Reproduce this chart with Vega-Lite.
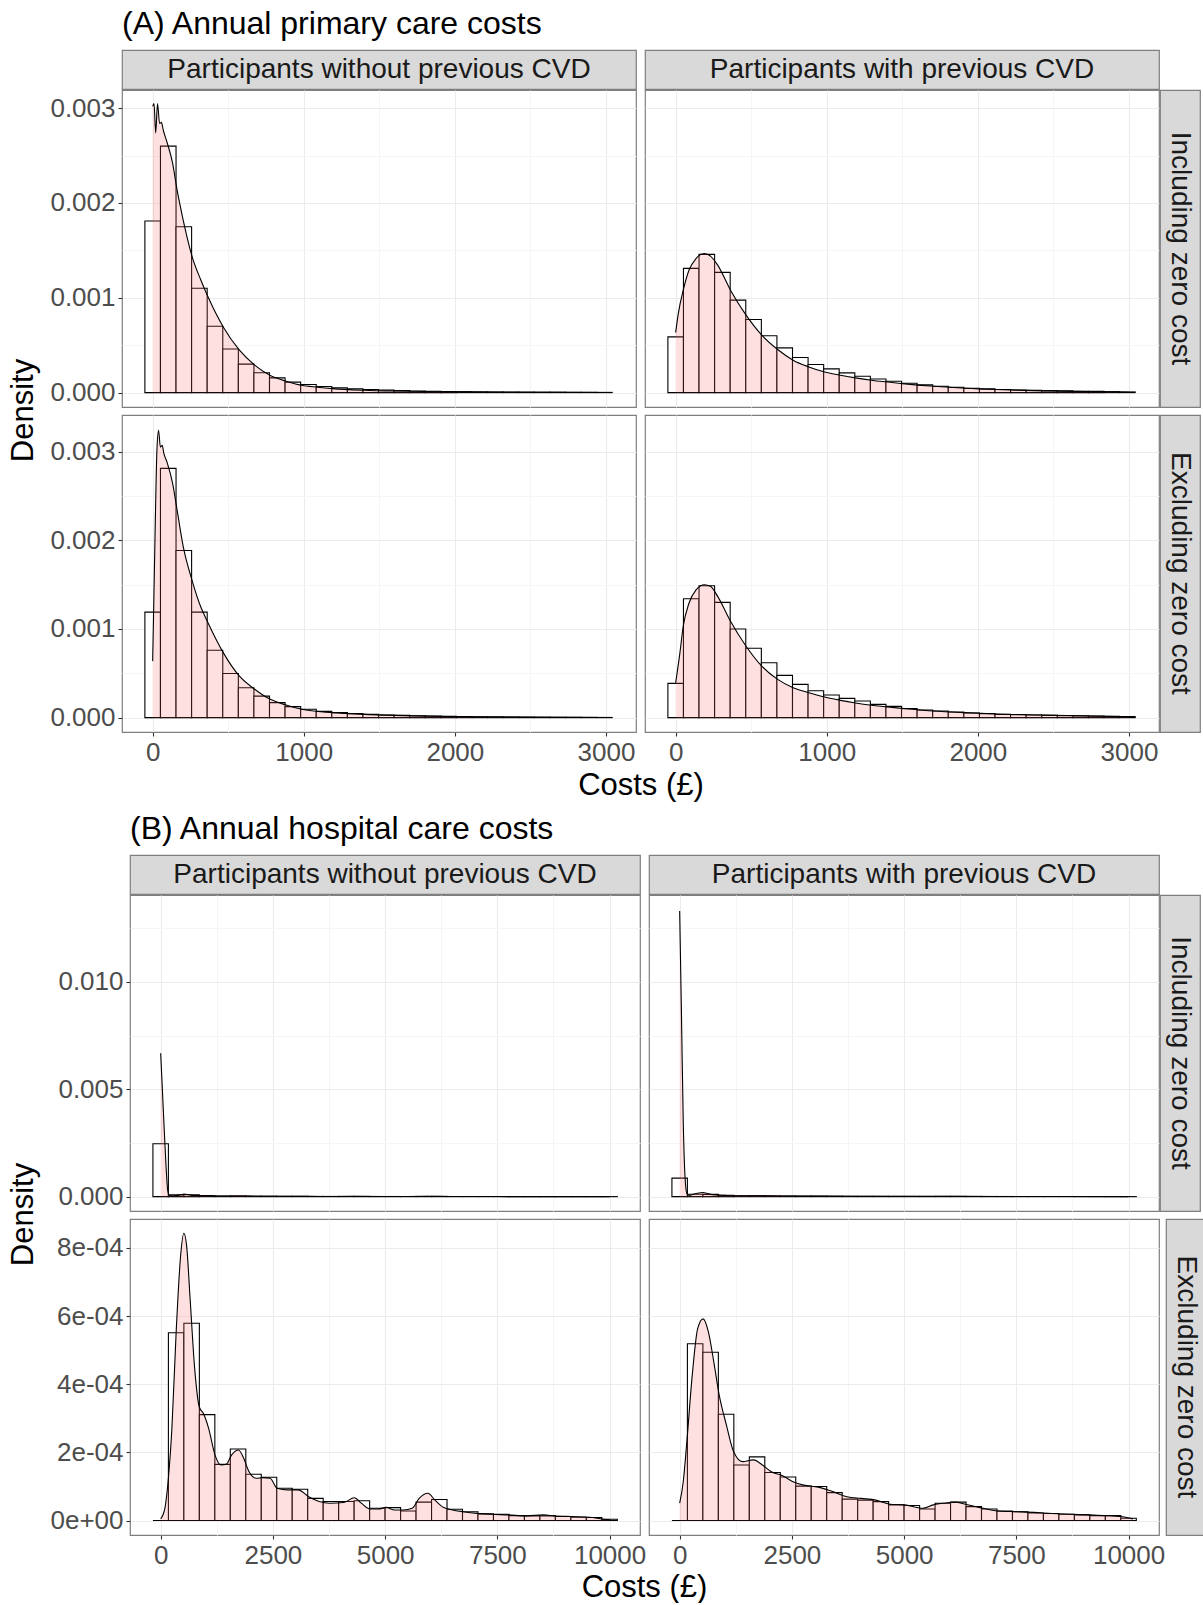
{
  "$schema": "https://vega.github.io/schema/vega-lite/v6.json",
  "background": "white",
  "padding": {"top": 8, "left": 7, "right": 0, "bottom": 0},
  "config": {
    "font": "Liberation Sans",
    "view": {"stroke": null},
    "axis": {"labelFont": "Liberation Sans", "labelFontSize": 26, "labelColor": "#4D4D4D", "tickColor": "#333333", "tickSize": 4, "tickWidth": 1.1, "labelPadding": 3, "domain": false, "labelOverlap": false, "labelFlush": false, "gridWidth": 1.1},
    "title": {"font": "Liberation Sans", "fontSize": 32, "fontWeight": "normal", "color": "#000000", "anchor": "start", "frame": "group", "offset": 8},
    "text": {"font": "Liberation Sans"}
  },
  "datasets": {
    "hA11": [
      {"x0": -51.55, "x1": 51.55, "d": 0.00181}, {"x0": 51.55, "x1": 154.65, "d": 0.0026}, {"x0": 154.65, "x1": 257.75, "d": 0.00175}, {"x0": 257.75, "x1": 360.85, "d": 0.0011}, {"x0": 360.85, "x1": 463.95, "d": 0.0007}, {"x0": 463.95, "x1": 567.05, "d": 0.00046}, {"x0": 567.05, "x1": 670.15, "d": 0.0003}, {"x0": 670.15, "x1": 773.25, "d": 0.00021}, {"x0": 773.25, "x1": 876.35, "d": 0.000155}, {"x0": 876.35, "x1": 979.45, "d": 0.00011}, {"x0": 979.45, "x1": 1082.55, "d": 0.000085}, {"x0": 1082.55, "x1": 1185.65, "d": 0.000065}, {"x0": 1185.65, "x1": 1288.75, "d": 0.00005}, {"x0": 1288.75, "x1": 1391.85, "d": 0.00004}, {"x0": 1391.85, "x1": 1494.95, "d": 0.000032}, {"x0": 1494.95, "x1": 1598.05, "d": 0.000026}, {"x0": 1598.05, "x1": 1701.15, "d": 0.000021}, {"x0": 1701.15, "x1": 1804.25, "d": 0.000017}, {"x0": 1804.25, "x1": 1907.35, "d": 0.000014}, {"x0": 1907.35, "x1": 2010.45, "d": 0.000012}, {"x0": 2010.45, "x1": 2113.55, "d": 0.00001}, {"x0": 2113.55, "x1": 2216.65, "d": 0.000008}, {"x0": 2216.65, "x1": 2319.75, "d": 0.000007}, {"x0": 2319.75, "x1": 2422.85, "d": 0.000006}, {"x0": 2422.85, "x1": 2525.95, "d": 0.000005}, {"x0": 2525.95, "x1": 2629.05, "d": 0.000004}, {"x0": 2629.05, "x1": 2732.15, "d": 0.000004}, {"x0": 2732.15, "x1": 2835.25, "d": 0.000003}, {"x0": 2835.25, "x1": 2938.35, "d": 0.000003}, {"x0": 2938.35, "x1": 3041.45, "d": 0.000002}
    ],
    "hA12": [
      {"x0": -51.55, "x1": 51.55, "d": 0.000588}, {"x0": 51.55, "x1": 154.65, "d": 0.00131}, {"x0": 154.65, "x1": 257.75, "d": 0.001458}, {"x0": 257.75, "x1": 360.85, "d": 0.001268}, {"x0": 360.85, "x1": 463.95, "d": 0.000975}, {"x0": 463.95, "x1": 567.05, "d": 0.000771}, {"x0": 567.05, "x1": 670.15, "d": 0.000599}, {"x0": 670.15, "x1": 773.25, "d": 0.000472}, {"x0": 773.25, "x1": 876.35, "d": 0.00037}, {"x0": 876.35, "x1": 979.45, "d": 0.000296}, {"x0": 979.45, "x1": 1082.55, "d": 0.00025}, {"x0": 1082.55, "x1": 1185.65, "d": 0.000208}, {"x0": 1185.65, "x1": 1288.75, "d": 0.000173}, {"x0": 1288.75, "x1": 1391.85, "d": 0.000144}, {"x0": 1391.85, "x1": 1494.95, "d": 0.00012}, {"x0": 1494.95, "x1": 1598.05, "d": 0.000099}, {"x0": 1598.05, "x1": 1701.15, "d": 0.000081}, {"x0": 1701.15, "x1": 1804.25, "d": 0.000067}, {"x0": 1804.25, "x1": 1907.35, "d": 0.000056}, {"x0": 1907.35, "x1": 2010.45, "d": 0.000046}, {"x0": 2010.45, "x1": 2113.55, "d": 0.000039}, {"x0": 2113.55, "x1": 2216.65, "d": 0.000032}, {"x0": 2216.65, "x1": 2319.75, "d": 0.000028}, {"x0": 2319.75, "x1": 2422.85, "d": 0.000025}, {"x0": 2422.85, "x1": 2525.95, "d": 0.000021}, {"x0": 2525.95, "x1": 2629.05, "d": 0.000018}, {"x0": 2629.05, "x1": 2732.15, "d": 0.000014}, {"x0": 2732.15, "x1": 2835.25, "d": 0.000013}, {"x0": 2835.25, "x1": 2938.35, "d": 0.00001}, {"x0": 2938.35, "x1": 3041.45, "d": 0.000007}
    ],
    "hA21": [
      {"x0": -51.55, "x1": 51.55, "d": 0.00119}, {"x0": 51.55, "x1": 154.65, "d": 0.00281}, {"x0": 154.65, "x1": 257.75, "d": 0.001884}, {"x0": 257.75, "x1": 360.85, "d": 0.00119}, {"x0": 360.85, "x1": 463.95, "d": 0.00076}, {"x0": 463.95, "x1": 567.05, "d": 0.000498}, {"x0": 567.05, "x1": 670.15, "d": 0.000337}, {"x0": 670.15, "x1": 773.25, "d": 0.000243}, {"x0": 773.25, "x1": 876.35, "d": 0.000169}, {"x0": 876.35, "x1": 979.45, "d": 0.000124}, {"x0": 979.45, "x1": 1082.55, "d": 0.000094}, {"x0": 1082.55, "x1": 1185.65, "d": 0.000071}, {"x0": 1185.65, "x1": 1288.75, "d": 0.000056}, {"x0": 1288.75, "x1": 1391.85, "d": 0.000045}, {"x0": 1391.85, "x1": 1494.95, "d": 0.000037}, {"x0": 1494.95, "x1": 1598.05, "d": 0.00003}, {"x0": 1598.05, "x1": 1701.15, "d": 0.000026}, {"x0": 1701.15, "x1": 1804.25, "d": 0.000022}, {"x0": 1804.25, "x1": 1907.35, "d": 0.000018}, {"x0": 1907.35, "x1": 2010.45, "d": 0.000015}, {"x0": 2010.45, "x1": 2113.55, "d": 0.000012}, {"x0": 2113.55, "x1": 2216.65, "d": 0.00001}, {"x0": 2216.65, "x1": 2319.75, "d": 0.000009}, {"x0": 2319.75, "x1": 2422.85, "d": 0.000007}, {"x0": 2422.85, "x1": 2525.95, "d": 0.000006}, {"x0": 2525.95, "x1": 2629.05, "d": 0.000005}, {"x0": 2629.05, "x1": 2732.15, "d": 0.000004}, {"x0": 2732.15, "x1": 2835.25, "d": 0.000004}, {"x0": 2835.25, "x1": 2938.35, "d": 0.000003}, {"x0": 2938.35, "x1": 3041.45, "d": 0.000002}
    ],
    "hA22": [
      {"x0": -51.55, "x1": 51.55, "d": 0.000386}, {"x0": 51.55, "x1": 154.65, "d": 0.001341}, {"x0": 154.65, "x1": 257.75, "d": 0.001487}, {"x0": 257.75, "x1": 360.85, "d": 0.0013}, {"x0": 360.85, "x1": 463.95, "d": 0.001}, {"x0": 463.95, "x1": 567.05, "d": 0.000783}, {"x0": 567.05, "x1": 670.15, "d": 0.000618}, {"x0": 670.15, "x1": 773.25, "d": 0.000476}, {"x0": 773.25, "x1": 876.35, "d": 0.000375}, {"x0": 876.35, "x1": 979.45, "d": 0.000303}, {"x0": 979.45, "x1": 1082.55, "d": 0.000255}, {"x0": 1082.55, "x1": 1185.65, "d": 0.000217}, {"x0": 1185.65, "x1": 1288.75, "d": 0.000187}, {"x0": 1288.75, "x1": 1391.85, "d": 0.00015}, {"x0": 1391.85, "x1": 1494.95, "d": 0.000127}, {"x0": 1494.95, "x1": 1598.05, "d": 0.000101}, {"x0": 1598.05, "x1": 1701.15, "d": 0.000086}, {"x0": 1701.15, "x1": 1804.25, "d": 0.000075}, {"x0": 1804.25, "x1": 1907.35, "d": 0.000064}, {"x0": 1907.35, "x1": 2010.45, "d": 0.000052}, {"x0": 2010.45, "x1": 2113.55, "d": 0.000045}, {"x0": 2113.55, "x1": 2216.65, "d": 0.000037}, {"x0": 2216.65, "x1": 2319.75, "d": 0.000034}, {"x0": 2319.75, "x1": 2422.85, "d": 0.00003}, {"x0": 2422.85, "x1": 2525.95, "d": 0.000026}, {"x0": 2525.95, "x1": 2629.05, "d": 0.000022}, {"x0": 2629.05, "x1": 2732.15, "d": 0.00002}, {"x0": 2732.15, "x1": 2835.25, "d": 0.000017}, {"x0": 2835.25, "x1": 2938.35, "d": 0.000015}, {"x0": 2938.35, "x1": 3041.45, "d": 0.000012}
    ],
    "hB11": [
      {"x0": -172.4, "x1": 172.4, "d": 0.00246}, {"x0": 172.4, "x1": 517.2, "d": 0.000084}, {"x0": 517.2, "x1": 862, "d": 0.000088}, {"x0": 862, "x1": 1206.8, "d": 0.000047}, {"x0": 1206.8, "x1": 1551.6, "d": 0.000025}, {"x0": 1551.6, "x1": 1896.4, "d": 0.000032}, {"x0": 1896.4, "x1": 2241.2, "d": 0.000021}, {"x0": 2241.2, "x1": 2586, "d": 0.000019}, {"x0": 2586, "x1": 2930.8, "d": 0.000014}, {"x0": 2930.8, "x1": 3275.6, "d": 0.000014}, {"x0": 3275.6, "x1": 3620.4, "d": 0.00001}, {"x0": 3620.4, "x1": 3965.2, "d": 0.0000085}, {"x0": 3965.2, "x1": 4310, "d": 0.0000085}, {"x0": 4310, "x1": 4654.8, "d": 0.0000088}, {"x0": 4654.8, "x1": 4999.6, "d": 0.0000055}, {"x0": 4999.6, "x1": 5344.4, "d": 0.0000058}, {"x0": 5344.4, "x1": 5689.2, "d": 0.0000043}, {"x0": 5689.2, "x1": 6034, "d": 0.0000082}, {"x0": 6034, "x1": 6378.8, "d": 0.0000094}, {"x0": 6378.8, "x1": 6723.6, "d": 0.000005}, {"x0": 6723.6, "x1": 7068.4, "d": 0.000004}, {"x0": 7068.4, "x1": 7413.2, "d": 0.000003}, {"x0": 7413.2, "x1": 7758, "d": 0.0000028}, {"x0": 7758, "x1": 8102.8, "d": 0.0000022}, {"x0": 8102.8, "x1": 8447.6, "d": 0.0000021}, {"x0": 8447.6, "x1": 8792.4, "d": 0.0000021}, {"x0": 8792.4, "x1": 9137.2, "d": 0.0000018}, {"x0": 9137.2, "x1": 9482, "d": 0.0000015}, {"x0": 9482, "x1": 9826.8, "d": 0.0000013}, {"x0": 9826.8, "x1": 10171.6, "d": 0.0000006}
    ],
    "hB12": [
      {"x0": -172.4, "x1": 172.4, "d": 0.00086}, {"x0": 172.4, "x1": 517.2, "d": 0.00011}, {"x0": 517.2, "x1": 862, "d": 0.000104}, {"x0": 862, "x1": 1206.8, "d": 0.000065}, {"x0": 1206.8, "x1": 1551.6, "d": 0.000034}, {"x0": 1551.6, "x1": 1896.4, "d": 0.000039}, {"x0": 1896.4, "x1": 2241.2, "d": 0.00003}, {"x0": 2241.2, "x1": 2586, "d": 0.000027}, {"x0": 2586, "x1": 2930.8, "d": 0.000021}, {"x0": 2930.8, "x1": 3275.6, "d": 0.000021}, {"x0": 3275.6, "x1": 3620.4, "d": 0.000017}, {"x0": 3620.4, "x1": 3965.2, "d": 0.000013}, {"x0": 3965.2, "x1": 4310, "d": 0.0000126}, {"x0": 4310, "x1": 4654.8, "d": 0.0000117}, {"x0": 4654.8, "x1": 4999.6, "d": 0.0000096}, {"x0": 4999.6, "x1": 5344.4, "d": 0.0000093}, {"x0": 5344.4, "x1": 5689.2, "d": 0.0000072}, {"x0": 5689.2, "x1": 6034, "d": 0.0000108}, {"x0": 6034, "x1": 6378.8, "d": 0.0000114}, {"x0": 6378.8, "x1": 6723.6, "d": 0.0000087}, {"x0": 6723.6, "x1": 7068.4, "d": 0.0000072}, {"x0": 7068.4, "x1": 7413.2, "d": 0.000006}, {"x0": 7413.2, "x1": 7758, "d": 0.0000054}, {"x0": 7758, "x1": 8102.8, "d": 0.0000045}, {"x0": 8102.8, "x1": 8447.6, "d": 0.0000042}, {"x0": 8447.6, "x1": 8792.4, "d": 0.0000039}, {"x0": 8792.4, "x1": 9137.2, "d": 0.0000035}, {"x0": 9137.2, "x1": 9482, "d": 0.000003}, {"x0": 9482, "x1": 9826.8, "d": 0.000003}, {"x0": 9826.8, "x1": 10171.6, "d": 0.0000014}
    ],
    "hB21": [
      {"x0": -172.4, "x1": 172.4, "d": 0}, {"x0": 172.4, "x1": 517.2, "d": 0.000551}, {"x0": 517.2, "x1": 862, "d": 0.000579}, {"x0": 862, "x1": 1206.8, "d": 0.000311}, {"x0": 1206.8, "x1": 1551.6, "d": 0.000165}, {"x0": 1551.6, "x1": 1896.4, "d": 0.00021}, {"x0": 1896.4, "x1": 2241.2, "d": 0.000136}, {"x0": 2241.2, "x1": 2586, "d": 0.000127}, {"x0": 2586, "x1": 2930.8, "d": 0.000095}, {"x0": 2930.8, "x1": 3275.6, "d": 0.000092}, {"x0": 3275.6, "x1": 3620.4, "d": 0.000065}, {"x0": 3620.4, "x1": 3965.2, "d": 0.000056}, {"x0": 3965.2, "x1": 4310, "d": 0.000056}, {"x0": 4310, "x1": 4654.8, "d": 0.000058}, {"x0": 4654.8, "x1": 4999.6, "d": 0.000036}, {"x0": 4999.6, "x1": 5344.4, "d": 0.000038}, {"x0": 5344.4, "x1": 5689.2, "d": 0.000028}, {"x0": 5689.2, "x1": 6034, "d": 0.000054}, {"x0": 6034, "x1": 6378.8, "d": 0.000062}, {"x0": 6378.8, "x1": 6723.6, "d": 0.000033}, {"x0": 6723.6, "x1": 7068.4, "d": 0.000026}, {"x0": 7068.4, "x1": 7413.2, "d": 0.0000195}, {"x0": 7413.2, "x1": 7758, "d": 0.0000185}, {"x0": 7758, "x1": 8102.8, "d": 0.0000146}, {"x0": 8102.8, "x1": 8447.6, "d": 0.0000137}, {"x0": 8447.6, "x1": 8792.4, "d": 0.0000137}, {"x0": 8792.4, "x1": 9137.2, "d": 0.0000117}, {"x0": 9137.2, "x1": 9482, "d": 0.0000098}, {"x0": 9482, "x1": 9826.8, "d": 0.0000088}, {"x0": 9826.8, "x1": 10171.6, "d": 0.0000039}
    ],
    "hB22": [
      {"x0": -172.4, "x1": 172.4, "d": 0}, {"x0": 172.4, "x1": 517.2, "d": 0.000519}, {"x0": 517.2, "x1": 862, "d": 0.000494}, {"x0": 862, "x1": 1206.8, "d": 0.000312}, {"x0": 1206.8, "x1": 1551.6, "d": 0.000163}, {"x0": 1551.6, "x1": 1896.4, "d": 0.000187}, {"x0": 1896.4, "x1": 2241.2, "d": 0.000141}, {"x0": 2241.2, "x1": 2586, "d": 0.000128}, {"x0": 2586, "x1": 2930.8, "d": 0.000101}, {"x0": 2930.8, "x1": 3275.6, "d": 0.0001}, {"x0": 3275.6, "x1": 3620.4, "d": 0.000082}, {"x0": 3620.4, "x1": 3965.2, "d": 0.000063}, {"x0": 3965.2, "x1": 4310, "d": 0.00006}, {"x0": 4310, "x1": 4654.8, "d": 0.0000556}, {"x0": 4654.8, "x1": 4999.6, "d": 0.000046}, {"x0": 4999.6, "x1": 5344.4, "d": 0.000044}, {"x0": 5344.4, "x1": 5689.2, "d": 0.000034}, {"x0": 5689.2, "x1": 6034, "d": 0.000051}, {"x0": 6034, "x1": 6378.8, "d": 0.000054}, {"x0": 6378.8, "x1": 6723.6, "d": 0.000041}, {"x0": 6723.6, "x1": 7068.4, "d": 0.000034}, {"x0": 7068.4, "x1": 7413.2, "d": 0.000028}, {"x0": 7413.2, "x1": 7758, "d": 0.000026}, {"x0": 7758, "x1": 8102.8, "d": 0.000022}, {"x0": 8102.8, "x1": 8447.6, "d": 0.0000205}, {"x0": 8447.6, "x1": 8792.4, "d": 0.0000185}, {"x0": 8792.4, "x1": 9137.2, "d": 0.0000166}, {"x0": 9137.2, "x1": 9482, "d": 0.0000146}, {"x0": 9482, "x1": 9826.8, "d": 0.0000146}, {"x0": 9826.8, "x1": 10171.6, "d": 0.0000068}
    ],
    "dA11": [
      {"v": 0, "d": 0.00302}, {"v": 9, "d": 0.00305}, {"v": 20, "d": 0.00274}, {"v": 32, "d": 0.00305}, {"v": 46, "d": 0.00284}, {"v": 58, "d": 0.00285}, {"v": 70, "d": 0.00277}, {"v": 97, "d": 0.00263}, {"v": 132, "d": 0.00242}, {"v": 158, "d": 0.00217}, {"v": 202, "d": 0.00182}, {"v": 262, "d": 0.00143}, {"v": 318, "d": 0.00119}, {"v": 366, "d": 0.00101}, {"v": 468, "d": 0.00069}, {"v": 573, "d": 0.00045}, {"v": 675, "d": 0.00029}, {"v": 779, "d": 0.00018}, {"v": 883, "d": 0.00012}, {"v": 985, "d": 0.000077}, {"v": 1090, "d": 0.000057}, {"v": 1192, "d": 0.000042}, {"v": 1398, "d": 0.000025}, {"v": 1600, "d": 0.000016}, {"v": 1800, "d": 0.000011}, {"v": 2000, "d": 0.000007}, {"v": 2300, "d": 0.000004}, {"v": 2600, "d": 0.000002}, {"v": 2990, "d": 0.000001}
    ],
    "dA12": [
      {"v": 0, "d": 0.000634}, {"v": 17, "d": 0.00083}, {"v": 50, "d": 0.00108}, {"v": 88, "d": 0.00129}, {"v": 135, "d": 0.001415}, {"v": 190, "d": 0.001468}, {"v": 230, "d": 0.00144}, {"v": 278, "d": 0.001345}, {"v": 363, "d": 0.00108}, {"v": 466, "d": 0.000817}, {"v": 570, "d": 0.000606}, {"v": 675, "d": 0.000454}, {"v": 777, "d": 0.000342}, {"v": 881, "d": 0.000271}, {"v": 986, "d": 0.000218}, {"v": 1090, "d": 0.000183}, {"v": 1190, "d": 0.000155}, {"v": 1295, "d": 0.00013}, {"v": 1501, "d": 0.000095}, {"v": 1708, "d": 0.000067}, {"v": 1917, "d": 0.000046}, {"v": 2124, "d": 0.000032}, {"v": 2435, "d": 0.000018}, {"v": 2746, "d": 0.00001}, {"v": 3000, "d": 0.000004}
    ],
    "dA21": [
      {"v": 0, "d": 0.000637}, {"v": 16, "d": 0.00208}, {"v": 28, "d": 0.00301}, {"v": 39, "d": 0.00324}, {"v": 51, "d": 0.00305}, {"v": 63, "d": 0.00307}, {"v": 74, "d": 0.00298}, {"v": 97, "d": 0.00287}, {"v": 132, "d": 0.00264}, {"v": 158, "d": 0.00238}, {"v": 202, "d": 0.00193}, {"v": 262, "d": 0.00154}, {"v": 318, "d": 0.00125}, {"v": 366, "d": 0.00107}, {"v": 468, "d": 0.00073}, {"v": 573, "d": 0.00047}, {"v": 675, "d": 0.00032}, {"v": 779, "d": 0.000206}, {"v": 883, "d": 0.000142}, {"v": 985, "d": 0.000094}, {"v": 1192, "d": 0.000056}, {"v": 1398, "d": 0.000037}, {"v": 1600, "d": 0.000025}, {"v": 1800, "d": 0.000017}, {"v": 2000, "d": 0.000011}, {"v": 2300, "d": 0.000006}, {"v": 2600, "d": 0.000003}, {"v": 2990, "d": 0.000001}
    ],
    "dA22": [
      {"v": 0, "d": 0.000393}, {"v": 28, "d": 0.00073}, {"v": 50, "d": 0.00103}, {"v": 88, "d": 0.00129}, {"v": 135, "d": 0.00144}, {"v": 190, "d": 0.001498}, {"v": 230, "d": 0.00148}, {"v": 278, "d": 0.001367}, {"v": 363, "d": 0.001086}, {"v": 466, "d": 0.000805}, {"v": 570, "d": 0.00058}, {"v": 675, "d": 0.000431}, {"v": 777, "d": 0.000337}, {"v": 881, "d": 0.000281}, {"v": 986, "d": 0.000232}, {"v": 1090, "d": 0.000195}, {"v": 1190, "d": 0.000165}, {"v": 1295, "d": 0.000139}, {"v": 1501, "d": 0.000105}, {"v": 1708, "d": 0.000075}, {"v": 1917, "d": 0.000056}, {"v": 2124, "d": 0.000041}, {"v": 2435, "d": 0.00003}, {"v": 2746, "d": 0.000019}, {"v": 3000, "d": 0.000009}
    ],
    "dB11": [
      {"v": 0, "d": 0.00668}, {"v": 40, "d": 0.0049}, {"v": 80, "d": 0.0031}, {"v": 120, "d": 0.0014}, {"v": 160, "d": 0.00025}, {"v": 200, "d": 0.00004}, {"v": 300, "d": 0.00004}, {"v": 450, "d": 0.00009}, {"v": 520, "d": 0.000115}, {"v": 600, "d": 0.0001}, {"v": 700, "d": 0.00006}, {"v": 860, "d": 0.00005}, {"v": 1000, "d": 0.00004}, {"v": 1300, "d": 0.000025}, {"v": 1600, "d": 0.00003}, {"v": 1750, "d": 0.000031}, {"v": 2000, "d": 0.000022}, {"v": 2500, "d": 0.000019}, {"v": 3000, "d": 0.000014}, {"v": 3500, "d": 0.000009}, {"v": 4300, "d": 0.00001}, {"v": 5000, "d": 0.000006}, {"v": 5950, "d": 0.000012}, {"v": 6500, "d": 0.000005}, {"v": 7500, "d": 0.000003}, {"v": 8500, "d": 0.000002}, {"v": 10000, "d": 0.0000005}
    ],
    "dB12": [
      {"v": 0, "d": 0.0133}, {"v": 40, "d": 0.0085}, {"v": 80, "d": 0.0035}, {"v": 120, "d": 0.0009}, {"v": 160, "d": 0.00015}, {"v": 220, "d": 0.00005}, {"v": 300, "d": 0.00011}, {"v": 400, "d": 0.00016}, {"v": 520, "d": 0.00019}, {"v": 640, "d": 0.00013}, {"v": 800, "d": 0.00008}, {"v": 1000, "d": 0.00006}, {"v": 1300, "d": 0.00004}, {"v": 1700, "d": 0.00004}, {"v": 2200, "d": 0.00003}, {"v": 3000, "d": 0.000022}, {"v": 4000, "d": 0.000015}, {"v": 5000, "d": 0.000011}, {"v": 6100, "d": 0.000014}, {"v": 7000, "d": 0.000008}, {"v": 8500, "d": 0.000005}, {"v": 10000, "d": 0.000002}
    ],
    "dB21": [
      {"v": 0, "d": 0.000005}, {"v": 94, "d": 0.000036}, {"v": 172, "d": 0.000124}, {"v": 250, "d": 0.00027}, {"v": 344, "d": 0.00055}, {"v": 445, "d": 0.000778}, {"v": 516, "d": 0.000843}, {"v": 578, "d": 0.000807}, {"v": 656, "d": 0.000651}, {"v": 758, "d": 0.000446}, {"v": 859, "d": 0.000334}, {"v": 953, "d": 0.000314}, {"v": 1070, "d": 0.00027}, {"v": 1211, "d": 0.000192}, {"v": 1344, "d": 0.000163}, {"v": 1461, "d": 0.000165}, {"v": 1578, "d": 0.000192}, {"v": 1734, "d": 0.000207}, {"v": 1852, "d": 0.000182}, {"v": 1969, "d": 0.000143}, {"v": 2125, "d": 0.000124}, {"v": 2281, "d": 0.000126}, {"v": 2437, "d": 0.000124}, {"v": 2594, "d": 0.000095}, {"v": 2828, "d": 0.00009}, {"v": 3063, "d": 0.00009}, {"v": 3297, "d": 0.00007}, {"v": 3531, "d": 0.000056}, {"v": 3766, "d": 0.000051}, {"v": 4078, "d": 0.000053}, {"v": 4313, "d": 0.000067}, {"v": 4469, "d": 0.000051}, {"v": 4664, "d": 0.000034}, {"v": 4859, "d": 0.000034}, {"v": 5016, "d": 0.000039}, {"v": 5211, "d": 0.000031}, {"v": 5406, "d": 0.000031}, {"v": 5602, "d": 0.000036}, {"v": 5758, "d": 0.000065}, {"v": 5953, "d": 0.00008}, {"v": 6109, "d": 0.00006}, {"v": 6305, "d": 0.000038}, {"v": 6500, "d": 0.000031}, {"v": 6734, "d": 0.000026}, {"v": 7047, "d": 0.000021}, {"v": 7359, "d": 0.0000185}, {"v": 7750, "d": 0.0000166}, {"v": 8141, "d": 0.0000137}, {"v": 8531, "d": 0.0000166}, {"v": 8766, "d": 0.0000137}, {"v": 9156, "d": 0.0000117}, {"v": 9547, "d": 0.0000098}, {"v": 9859, "d": 0.0000039}, {"v": 10016, "d": 0.000002}
    ],
    "dB22": [
      {"v": 0, "d": 0.000051}, {"v": 80, "d": 0.000114}, {"v": 160, "d": 0.000231}, {"v": 280, "d": 0.000426}, {"v": 401, "d": 0.000563}, {"v": 521, "d": 0.000592}, {"v": 641, "d": 0.000553}, {"v": 761, "d": 0.000465}, {"v": 881, "d": 0.000368}, {"v": 1042, "d": 0.00028}, {"v": 1202, "d": 0.000202}, {"v": 1402, "d": 0.000173}, {"v": 1643, "d": 0.000178}, {"v": 1843, "d": 0.000163}, {"v": 2043, "d": 0.000143}, {"v": 2284, "d": 0.000132}, {"v": 2524, "d": 0.000114}, {"v": 2764, "d": 0.000104}, {"v": 3085, "d": 0.000098}, {"v": 3405, "d": 0.000085}, {"v": 3726, "d": 0.00007}, {"v": 4046, "d": 0.000065}, {"v": 4367, "d": 0.00006}, {"v": 4688, "d": 0.000048}, {"v": 5008, "d": 0.000046}, {"v": 5409, "d": 0.000036}, {"v": 5649, "d": 0.000046}, {"v": 5889, "d": 0.000051}, {"v": 6130, "d": 0.000054}, {"v": 6370, "d": 0.000048}, {"v": 6691, "d": 0.000038}, {"v": 7091, "d": 0.000028}, {"v": 7492, "d": 0.000026}, {"v": 7893, "d": 0.000024}, {"v": 8293, "d": 0.0000205}, {"v": 8694, "d": 0.0000185}, {"v": 9095, "d": 0.0000166}, {"v": 9495, "d": 0.0000146}, {"v": 9816, "d": 0.0000117}, {"v": 10096, "d": 0.000005}
    ]
  },
  "spacing": 12,
  "vconcat": [
    {
      "spacing": 8,
      "hconcat": [
        {"width": 34, "height": 721, "data": {"values": [{"t": "Density"}]}, "mark": {"type": "text", "angle": 270, "fontSize": 31, "color": "#000000", "baseline": "middle", "align": "center"}, "encoding": {"text": {"field": "t"}}},
        {
          "title": {"text": "(A) Annual primary care costs"},
          "spacing": 4,
          "vconcat": [
            {
              "spacing": -1,
              "vconcat": [
                {
                  "hconcat": [
                    {"width": 514, "height": 39, "view": {"fill": "#D9D9D9", "stroke": "#7F7F7F", "strokeWidth": 1.2}, "data": {"values": [{"t": "Participants without previous CVD"}]}, "mark": {"type": "text", "fontSize": 28, "color": "#1A1A1A", "baseline": "middle", "align": "center"}, "encoding": {"text": {"field": "t"}}},
                    {"width": 514, "height": 39, "view": {"fill": "#D9D9D9", "stroke": "#7F7F7F", "strokeWidth": 1.2}, "data": {"values": [{"t": "Participants with previous CVD"}]}, "mark": {"type": "text", "fontSize": 28, "color": "#1A1A1A", "baseline": "middle", "align": "center"}, "encoding": {"text": {"field": "t"}}}
                  ],
                  "spacing": 9,
                  "bounds": "flush"
                },
                {
                  "spacing": 6,
                  "vconcat": [
                    {
                      "spacing": -1,
                      "hconcat": [
                        {
                          "spacing": 9,
                          "bounds": "flush",
                          "hconcat": [
                            {
                              "width": 514, "height": 317,
                              "view": {"stroke": "#7F7F7F", "strokeWidth": 1.2},
                              "layer": [
                                {"data": {"name": "hA11"}, "mark": {"type": "rect", "fill": "white", "stroke": "#000000", "strokeWidth": 1.1, "clip": true},
                                 "encoding": {
                                   "x": {"field": "x0", "type": "quantitative", "scale": {"domain": [-203, 3199], "nice": false, "zero": false},
                                         "axis": {"orient": "bottom", "values": [0, 500, 1000, 1500, 2000, 2500, 3000], "labels": false, "ticks": false, "title": null, "grid": true, "gridColor": {"condition": {"test": "datum.value % 1000 === 0", "value": "#EBEBEB"}, "value": "#F5F5F5"}}},
                                   "x2": {"field": "x1"},
                                   "y": {"field": "d", "type": "quantitative", "scale": {"domain": [-0.000152, 0.003192], "nice": false, "zero": false},
                                         "axis": {"orient": "left", "values": [0, 0.0005, 0.001, 0.0015, 0.002, 0.0025, 0.003], "title": null, "grid": true, "format": ".3f", "labelExpr": "abs(datum.value*1000 - round(datum.value*1000)) < 1e-6 ? datum.label : ''", "tickOpacity": {"condition": {"test": "abs(datum.value*1000 - round(datum.value*1000)) < 1e-6", "value": 1}, "value": 0}, "gridColor": {"condition": {"test": "abs(datum.value*1000 - round(datum.value*1000)) < 1e-6", "value": "#EBEBEB"}, "value": "#F5F5F5"}}},
                                   "y2": {"datum": 0}
                                 }},
                                {"data": {"name": "dA11"}, "mark": {"type": "area", "fill": "#FF6666", "fillOpacity": 0.2, "interpolate": "monotone", "clip": true, "line": {"color": "#000000", "strokeWidth": 1.1}},
                                 "encoding": {"x": {"field": "v", "type": "quantitative", "axis": {"title": null}}, "y": {"field": "d", "type": "quantitative", "axis": {"title": null}}, "y2": {"datum": 0}}}
                              ]
                            },
                            {
                              "width": 514, "height": 317,
                              "view": {"stroke": "#7F7F7F", "strokeWidth": 1.2},
                              "layer": [
                                {"data": {"name": "hA12"}, "mark": {"type": "rect", "fill": "white", "stroke": "#000000", "strokeWidth": 1.1, "clip": true},
                                 "encoding": {
                                   "x": {"field": "x0", "type": "quantitative", "scale": {"domain": [-203, 3199], "nice": false, "zero": false},
                                         "axis": {"orient": "bottom", "values": [0, 500, 1000, 1500, 2000, 2500, 3000], "labels": false, "ticks": false, "title": null, "grid": true, "gridColor": {"condition": {"test": "datum.value % 1000 === 0", "value": "#EBEBEB"}, "value": "#F5F5F5"}}},
                                   "x2": {"field": "x1"},
                                   "y": {"field": "d", "type": "quantitative", "scale": {"domain": [-0.000152, 0.003192], "nice": false, "zero": false},
                                         "axis": {"orient": "left", "values": [0, 0.0005, 0.001, 0.0015, 0.002, 0.0025, 0.003], "labels": false, "ticks": false, "title": null, "grid": true, "gridColor": {"condition": {"test": "abs(datum.value*1000 - round(datum.value*1000)) < 1e-6", "value": "#EBEBEB"}, "value": "#F5F5F5"}}},
                                   "y2": {"datum": 0}
                                 }},
                                {"data": {"name": "dA12"}, "mark": {"type": "area", "fill": "#FF6666", "fillOpacity": 0.2, "interpolate": "monotone", "clip": true, "line": {"color": "#000000", "strokeWidth": 1.1}},
                                 "encoding": {"x": {"field": "v", "type": "quantitative", "axis": {"title": null}}, "y": {"field": "d", "type": "quantitative", "axis": {"title": null}}, "y2": {"datum": 0}}}
                              ]
                            }
                          ]
                        },
                        {"width": 40, "height": 317, "view": {"fill": "#D9D9D9", "stroke": "#7F7F7F", "strokeWidth": 1.2}, "data": {"values": [{"t": "Including zero cost"}]}, "mark": {"type": "text", "angle": 90, "fontSize": 28, "color": "#1A1A1A", "baseline": "middle", "align": "center"}, "encoding": {"text": {"field": "t"}}}
                      ]
                    },
                    {
                      "spacing": -1,
                      "hconcat": [
                        {
                          "spacing": 9,
                          "bounds": "flush",
                          "hconcat": [
                            {
                              "width": 514, "height": 317,
                              "view": {"stroke": "#7F7F7F", "strokeWidth": 1.2},
                              "layer": [
                                {"data": {"name": "hA21"}, "mark": {"type": "rect", "fill": "white", "stroke": "#000000", "strokeWidth": 1.1, "clip": true},
                                 "encoding": {
                                   "x": {"field": "x0", "type": "quantitative", "scale": {"domain": [-203, 3199], "nice": false, "zero": false},
                                         "axis": {"orient": "bottom", "values": [0, 500, 1000, 1500, 2000, 2500, 3000], "title": null, "grid": true, "format": "d", "labelExpr": "datum.value % 1000 === 0 ? datum.label : ''", "tickOpacity": {"condition": {"test": "datum.value % 1000 === 0", "value": 1}, "value": 0}, "gridColor": {"condition": {"test": "datum.value % 1000 === 0", "value": "#EBEBEB"}, "value": "#F5F5F5"}}},
                                   "x2": {"field": "x1"},
                                   "y": {"field": "d", "type": "quantitative", "scale": {"domain": [-0.000162, 0.003412], "nice": false, "zero": false},
                                         "axis": {"orient": "left", "values": [0, 0.0005, 0.001, 0.0015, 0.002, 0.0025, 0.003], "title": null, "grid": true, "format": ".3f", "labelExpr": "abs(datum.value*1000 - round(datum.value*1000)) < 1e-6 ? datum.label : ''", "tickOpacity": {"condition": {"test": "abs(datum.value*1000 - round(datum.value*1000)) < 1e-6", "value": 1}, "value": 0}, "gridColor": {"condition": {"test": "abs(datum.value*1000 - round(datum.value*1000)) < 1e-6", "value": "#EBEBEB"}, "value": "#F5F5F5"}}},
                                   "y2": {"datum": 0}
                                 }},
                                {"data": {"name": "dA21"}, "mark": {"type": "area", "fill": "#FF6666", "fillOpacity": 0.2, "interpolate": "monotone", "clip": true, "line": {"color": "#000000", "strokeWidth": 1.1}},
                                 "encoding": {"x": {"field": "v", "type": "quantitative", "axis": {"title": null}}, "y": {"field": "d", "type": "quantitative", "axis": {"title": null}}, "y2": {"datum": 0}}}
                              ]
                            },
                            {
                              "width": 514, "height": 317,
                              "view": {"stroke": "#7F7F7F", "strokeWidth": 1.2},
                              "layer": [
                                {"data": {"name": "hA22"}, "mark": {"type": "rect", "fill": "white", "stroke": "#000000", "strokeWidth": 1.1, "clip": true},
                                 "encoding": {
                                   "x": {"field": "x0", "type": "quantitative", "scale": {"domain": [-203, 3199], "nice": false, "zero": false},
                                         "axis": {"orient": "bottom", "values": [0, 500, 1000, 1500, 2000, 2500, 3000], "title": null, "grid": true, "format": "d", "labelExpr": "datum.value % 1000 === 0 ? datum.label : ''", "tickOpacity": {"condition": {"test": "datum.value % 1000 === 0", "value": 1}, "value": 0}, "gridColor": {"condition": {"test": "datum.value % 1000 === 0", "value": "#EBEBEB"}, "value": "#F5F5F5"}}},
                                   "x2": {"field": "x1"},
                                   "y": {"field": "d", "type": "quantitative", "scale": {"domain": [-0.000162, 0.003412], "nice": false, "zero": false},
                                         "axis": {"orient": "left", "values": [0, 0.0005, 0.001, 0.0015, 0.002, 0.0025, 0.003], "labels": false, "ticks": false, "title": null, "grid": true, "gridColor": {"condition": {"test": "abs(datum.value*1000 - round(datum.value*1000)) < 1e-6", "value": "#EBEBEB"}, "value": "#F5F5F5"}}},
                                   "y2": {"datum": 0}
                                 }},
                                {"data": {"name": "dA22"}, "mark": {"type": "area", "fill": "#FF6666", "fillOpacity": 0.2, "interpolate": "monotone", "clip": true, "line": {"color": "#000000", "strokeWidth": 1.1}},
                                 "encoding": {"x": {"field": "v", "type": "quantitative", "axis": {"title": null}}, "y": {"field": "d", "type": "quantitative", "axis": {"title": null}}, "y2": {"datum": 0}}}
                              ]
                            }
                          ]
                        },
                        {"width": 40, "height": 317, "view": {"fill": "#D9D9D9", "stroke": "#7F7F7F", "strokeWidth": 1.2}, "data": {"values": [{"t": "Excluding zero cost"}]}, "mark": {"type": "text", "angle": 90, "fontSize": 28, "color": "#1A1A1A", "baseline": "middle", "align": "center"}, "encoding": {"text": {"field": "t"}}}
                      ]
                    }
                  ]
                }
              ]
            },
            {"width": 1038, "height": 30, "data": {"values": [{"t": "Costs (£)"}]}, "mark": {"type": "text", "fontSize": 31, "color": "#000000", "baseline": "middle", "align": "center"}, "encoding": {"text": {"field": "t"}}}
          ]
        }
      ]
    },
    {
      "spacing": 8,
      "hconcat": [
        {"width": 34, "height": 719, "data": {"values": [{"t": "Density"}]}, "mark": {"type": "text", "angle": 270, "fontSize": 31, "color": "#000000", "baseline": "middle", "align": "center"}, "encoding": {"text": {"field": "t"}}},
        {
          "title": {"text": "(B) Annual hospital care costs"},
          "spacing": 3,
          "vconcat": [
            {
              "spacing": -1,
              "vconcat": [
                {
                  "hconcat": [
                    {"width": 510, "height": 39, "view": {"fill": "#D9D9D9", "stroke": "#7F7F7F", "strokeWidth": 1.2}, "data": {"values": [{"t": "Participants without previous CVD"}]}, "mark": {"type": "text", "fontSize": 28, "color": "#1A1A1A", "baseline": "middle", "align": "center"}, "encoding": {"text": {"field": "t"}}},
                    {"width": 510, "height": 39, "view": {"fill": "#D9D9D9", "stroke": "#7F7F7F", "strokeWidth": 1.2}, "data": {"values": [{"t": "Participants with previous CVD"}]}, "mark": {"type": "text", "fontSize": 28, "color": "#1A1A1A", "baseline": "middle", "align": "center"}, "encoding": {"text": {"field": "t"}}}
                  ],
                  "spacing": 9,
                  "bounds": "flush"
                },
                {
                  "spacing": 6,
                  "vconcat": [
                    {
                      "spacing": -1,
                      "hconcat": [
                        {
                          "spacing": 9,
                          "bounds": "flush",
                          "hconcat": [
                            {
                              "width": 510, "height": 316,
                              "view": {"stroke": "#7F7F7F", "strokeWidth": 1.2},
                              "layer": [
                                {"data": {"name": "hB11"}, "mark": {"type": "rect", "fill": "white", "stroke": "#000000", "strokeWidth": 1.1, "clip": true},
                                 "encoding": {
                                   "x": {"field": "x0", "type": "quantitative", "scale": {"domain": [-683, 10677], "nice": false, "zero": false},
                                         "axis": {"orient": "bottom", "values": [0, 1250, 2500, 3750, 5000, 6250, 7500, 8750, 10000], "labels": false, "ticks": false, "title": null, "grid": true, "gridColor": {"condition": {"test": "datum.value % 2500 === 0", "value": "#EBEBEB"}, "value": "#F5F5F5"}}},
                                   "x2": {"field": "x1"},
                                   "y": {"field": "d", "type": "quantitative", "scale": {"domain": [-0.000669, 0.01405], "nice": false, "zero": false},
                                         "axis": {"orient": "left", "values": [0, 0.0025, 0.005, 0.0075, 0.01, 0.0125], "title": null, "grid": true, "format": ".3f", "labelExpr": "abs(datum.value*200 - round(datum.value*200)) < 1e-6 ? datum.label : ''", "tickOpacity": {"condition": {"test": "abs(datum.value*200 - round(datum.value*200)) < 1e-6", "value": 1}, "value": 0}, "gridColor": {"condition": {"test": "abs(datum.value*200 - round(datum.value*200)) < 1e-6", "value": "#EBEBEB"}, "value": "#F5F5F5"}}},
                                   "y2": {"datum": 0}
                                 }},
                                {"data": {"name": "dB11"}, "mark": {"type": "area", "fill": "#FF6666", "fillOpacity": 0.2, "interpolate": "monotone", "clip": true, "line": {"color": "#000000", "strokeWidth": 1.1}},
                                 "encoding": {"x": {"field": "v", "type": "quantitative", "axis": {"title": null}}, "y": {"field": "d", "type": "quantitative", "axis": {"title": null}}, "y2": {"datum": 0}}}
                              ]
                            },
                            {
                              "width": 510, "height": 316,
                              "view": {"stroke": "#7F7F7F", "strokeWidth": 1.2},
                              "layer": [
                                {"data": {"name": "hB12"}, "mark": {"type": "rect", "fill": "white", "stroke": "#000000", "strokeWidth": 1.1, "clip": true},
                                 "encoding": {
                                   "x": {"field": "x0", "type": "quantitative", "scale": {"domain": [-683, 10677], "nice": false, "zero": false},
                                         "axis": {"orient": "bottom", "values": [0, 1250, 2500, 3750, 5000, 6250, 7500, 8750, 10000], "labels": false, "ticks": false, "title": null, "grid": true, "gridColor": {"condition": {"test": "datum.value % 2500 === 0", "value": "#EBEBEB"}, "value": "#F5F5F5"}}},
                                   "x2": {"field": "x1"},
                                   "y": {"field": "d", "type": "quantitative", "scale": {"domain": [-0.000669, 0.01405], "nice": false, "zero": false},
                                         "axis": {"orient": "left", "values": [0, 0.0025, 0.005, 0.0075, 0.01, 0.0125], "labels": false, "ticks": false, "title": null, "grid": true, "gridColor": {"condition": {"test": "abs(datum.value*200 - round(datum.value*200)) < 1e-6", "value": "#EBEBEB"}, "value": "#F5F5F5"}}},
                                   "y2": {"datum": 0}
                                 }},
                                {"data": {"name": "dB12"}, "mark": {"type": "area", "fill": "#FF6666", "fillOpacity": 0.2, "interpolate": "monotone", "clip": true, "line": {"color": "#000000", "strokeWidth": 1.1}},
                                 "encoding": {"x": {"field": "v", "type": "quantitative", "axis": {"title": null}}, "y": {"field": "d", "type": "quantitative", "axis": {"title": null}}, "y2": {"datum": 0}}}
                              ]
                            }
                          ]
                        },
                        {"width": 40, "height": 316, "view": {"fill": "#D9D9D9", "stroke": "#7F7F7F", "strokeWidth": 1.2}, "data": {"values": [{"t": "Including zero cost"}]}, "mark": {"type": "text", "angle": 90, "fontSize": 28, "color": "#1A1A1A", "baseline": "middle", "align": "center"}, "encoding": {"text": {"field": "t"}}}
                      ]
                    },
                    {
                      "spacing": -1,
                      "hconcat": [
                        {
                          "spacing": 9,
                          "bounds": "flush",
                          "hconcat": [
                            {
                              "width": 510, "height": 316,
                              "view": {"stroke": "#7F7F7F", "strokeWidth": 1.2},
                              "layer": [
                                {"data": {"name": "hB21"}, "mark": {"type": "rect", "fill": "white", "stroke": "#000000", "strokeWidth": 1.1, "clip": true},
                                 "encoding": {
                                   "x": {"field": "x0", "type": "quantitative", "scale": {"domain": [-683, 10677], "nice": false, "zero": false},
                                         "axis": {"orient": "bottom", "values": [0, 1250, 2500, 3750, 5000, 6250, 7500, 8750, 10000], "title": null, "grid": true, "format": "d", "labelExpr": "datum.value % 2500 === 0 ? datum.label : ''", "tickOpacity": {"condition": {"test": "datum.value % 2500 === 0", "value": 1}, "value": 0}, "gridColor": {"condition": {"test": "datum.value % 2500 === 0", "value": "#EBEBEB"}, "value": "#F5F5F5"}}},
                                   "x2": {"field": "x1"},
                                   "y": {"field": "d", "type": "quantitative", "scale": {"domain": [-0.0000424, 0.000885], "nice": false, "zero": false},
                                         "axis": {"orient": "left", "values": [0, 0.0001, 0.0002, 0.0003, 0.0004, 0.0005, 0.0006, 0.0007, 0.0008], "title": null, "grid": true, "labelExpr": "round(datum.value*10000) % 2 === 0 ? (datum.value === 0 ? '0e+00' : round(datum.value*10000) + 'e-04') : ''", "tickOpacity": {"condition": {"test": "round(datum.value*10000) % 2 === 0", "value": 1}, "value": 0}, "gridColor": {"condition": {"test": "round(datum.value*10000) % 2 === 0", "value": "#EBEBEB"}, "value": "#F5F5F5"}}},
                                   "y2": {"datum": 0}
                                 }},
                                {"data": {"name": "dB21"}, "mark": {"type": "area", "fill": "#FF6666", "fillOpacity": 0.2, "interpolate": "monotone", "clip": true, "line": {"color": "#000000", "strokeWidth": 1.1}},
                                 "encoding": {"x": {"field": "v", "type": "quantitative", "axis": {"title": null}}, "y": {"field": "d", "type": "quantitative", "axis": {"title": null}}, "y2": {"datum": 0}}}
                              ]
                            },
                            {
                              "width": 510, "height": 316,
                              "view": {"stroke": "#7F7F7F", "strokeWidth": 1.2},
                              "layer": [
                                {"data": {"name": "hB22"}, "mark": {"type": "rect", "fill": "white", "stroke": "#000000", "strokeWidth": 1.1, "clip": true},
                                 "encoding": {
                                   "x": {"field": "x0", "type": "quantitative", "scale": {"domain": [-683, 10677], "nice": false, "zero": false},
                                         "axis": {"orient": "bottom", "values": [0, 1250, 2500, 3750, 5000, 6250, 7500, 8750, 10000], "title": null, "grid": true, "format": "d", "labelExpr": "datum.value % 2500 === 0 ? datum.label : ''", "tickOpacity": {"condition": {"test": "datum.value % 2500 === 0", "value": 1}, "value": 0}, "gridColor": {"condition": {"test": "datum.value % 2500 === 0", "value": "#EBEBEB"}, "value": "#F5F5F5"}}},
                                   "x2": {"field": "x1"},
                                   "y": {"field": "d", "type": "quantitative", "scale": {"domain": [-0.0000424, 0.000885], "nice": false, "zero": false},
                                         "axis": {"orient": "left", "values": [0, 0.0001, 0.0002, 0.0003, 0.0004, 0.0005, 0.0006, 0.0007, 0.0008], "labels": false, "ticks": false, "title": null, "grid": true, "gridColor": {"condition": {"test": "round(datum.value*10000) % 2 === 0", "value": "#EBEBEB"}, "value": "#F5F5F5"}}},
                                   "y2": {"datum": 0}
                                 }},
                                {"data": {"name": "dB22"}, "mark": {"type": "area", "fill": "#FF6666", "fillOpacity": 0.2, "interpolate": "monotone", "clip": true, "line": {"color": "#000000", "strokeWidth": 1.1}},
                                 "encoding": {"x": {"field": "v", "type": "quantitative", "axis": {"title": null}}, "y": {"field": "d", "type": "quantitative", "axis": {"title": null}}, "y2": {"datum": 0}}}
                              ]
                            }
                          ]
                        },
                        {"width": 40, "height": 316, "view": {"fill": "#D9D9D9", "stroke": "#7F7F7F", "strokeWidth": 1.2}, "data": {"values": [{"t": "Excluding zero cost"}]}, "mark": {"type": "text", "angle": 90, "fontSize": 28, "color": "#1A1A1A", "baseline": "middle", "align": "center"}, "encoding": {"text": {"field": "t"}}}
                      ]
                    }
                  ]
                }
              ]
            },
            {"width": 1029, "height": 30, "data": {"values": [{"t": "Costs (£)"}]}, "mark": {"type": "text", "fontSize": 31, "color": "#000000", "baseline": "middle", "align": "center"}, "encoding": {"text": {"field": "t"}}}
          ]
        }
      ]
    }
  ]
}
